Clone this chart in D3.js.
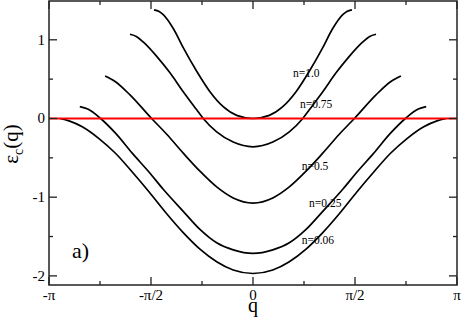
<!DOCTYPE html>
<html>
<head>
<meta charset="utf-8">
<script src="https://cdn.jsdelivr.net/npm/d3@7"></script>
<style>
  body { margin: 0; background: #fff; }
  svg { display: block; }
  text { font-family: "Liberation Serif", "DejaVu Serif", serif; fill: #000; }
</style>
</head>
<body>
<div id="chart"></div>
<script>
// band dispersion eps_c(q), q given in units of pi

const xTicks = [-1, -0.5, 0, 0.5, 1];
const xTickLabels = ['-\u03c0', '-\u03c0/2', '0', '\u03c0/2', '\u03c0'];
const yTicks = [-2, -1, 0, 1];

const n100 = [[-0.485, 1.38], [-0.46, 1.36], [-0.44, 1.32], [-0.39, 1.14], [-0.342, 0.9], [-0.276, 0.6], [-0.211, 0.34],
    [-0.146, 0.15], [-0.08, 0.04], [0, 0], [0.08, 0.04], [0.146, 0.15], [0.211, 0.34], [0.276, 0.6],
    [0.342, 0.9], [0.39, 1.14], [0.44, 1.32], [0.46, 1.36], [0.485, 1.38]];
const n075 = [[-0.603, 1.07], [-0.57, 1.04], [-0.537, 0.97], [-0.472, 0.79], [-0.407, 0.58], [-0.342, 0.34], [-0.276, 0.11],
    [-0.244, 0], [-0.178, -0.17], [-0.097, -0.3], [0, -0.36], [0.097, -0.3], [0.178, -0.17], [0.244, 0],
    [0.276, 0.11], [0.342, 0.34], [0.407, 0.58], [0.472, 0.79], [0.537, 0.97], [0.57, 1.04], [0.603, 1.07]];
const n050 = [[-0.725, 0.54], [-0.676, 0.47], [-0.603, 0.3], [-0.497, 0], [-0.423, -0.2], [-0.342, -0.44],
    [-0.26, -0.67], [-0.178, -0.87], [-0.097, -1.01], [0, -1.075], [0.097, -1.01], [0.178, -0.87], [0.26, -0.67],
    [0.342, -0.44], [0.423, -0.2], [0.497, 0], [0.603, 0.3], [0.676, 0.47], [0.725, 0.54]];
const n025 = [[-0.849, 0.15], [-0.81, 0.12], [-0.747, 0], [-0.673, -0.19], [-0.592, -0.44], [-0.51, -0.68],
    [-0.44, -0.9], [-0.342, -1.18], [-0.26, -1.41], [-0.178, -1.58], [-0.097, -1.67], [0, -1.715],
    [0.097, -1.67], [0.178, -1.58], [0.26, -1.41], [0.342, -1.18], [0.44, -0.9], [0.51, -0.68],
    [0.592, -0.44], [0.673, -0.19], [0.747, 0], [0.81, 0.12], [0.849, 0.15]];
const n006 = [[-0.946, 0], [-0.902, -0.03], [-0.837, -0.105], [-0.755, -0.255], [-0.673, -0.445], [-0.592, -0.68],
    [-0.51, -0.93], [-0.423, -1.21], [-0.342, -1.45], [-0.26, -1.66], [-0.178, -1.82], [-0.097, -1.925],
    [0, -1.97], [0.097, -1.925], [0.178, -1.82], [0.26, -1.66], [0.342, -1.45], [0.423, -1.21], [0.51, -0.93],
    [0.592, -0.68], [0.673, -0.445], [0.755, -0.255], [0.837, -0.105], [0.902, -0.03], [0.946, 0]];
const zeroLine = [[-1, 0], [1, 0]];

const curves = [n100, n075, n050, n025, n006];
const curveNames = ['n=1.0', 'n=0.75', 'n=0.5', 'n=0.25', 'n=0.06'];

const width = 463, height = 324;
const margin = { top: 1, right: 6, bottom: 39, left: 49 };

const svg = d3.select('#chart').append('svg')
    .attr('width', width)
    .attr('height', height);

const x = d3.scaleLinear().domain([-1, 1]).range([margin.left, width - margin.right]);
const y = d3.scaleLinear().domain([-2.116, 1.493]).range([height - margin.bottom, margin.top]);

// curves
const line = d3.line()
    .x(d => x(d[0]))
    .y(d => y(d[1]))
    .curve(d3.curveMonotoneX);

svg.append('g').selectAll('path')
    .data(curves)
    .enter().append('path')
    .attr('d', line)
    .attr('fill', 'none')
    .attr('stroke', '#000')
    .attr('stroke-width', 1.7);

svg.append('path')
    .attr('d', d3.line().x(d => x(d[0])).y(d => y(d[1]))(zeroLine))
    .attr('fill', 'none')
    .attr('stroke', '#ff0000')
    .attr('stroke-width', 2);

// axes: major + minor ticks pointing inward on all four sides
const xMinor = d3.range(-1, 1.01, 0.25);
const yMinor = d3.range(-2, 1.01, 0.5);
const majorLen = 8, minorLen = 4;
const x0 = margin.left, x1 = width - margin.right;
const y0 = height - margin.bottom, y1 = margin.top;

const axisG = svg.append('g').attr('stroke', '#222').attr('stroke-width', 1.3);
const isMajorX = v => xTicks.some(t => Math.abs(t - v) < 1e-6);
const isMajorY = v => yTicks.some(t => Math.abs(t - v) < 1e-6);

xMinor.forEach(v => {
    const len = isMajorX(v) ? majorLen : minorLen;
    axisG.append('line').attr('x1', x(v)).attr('x2', x(v)).attr('y1', y0).attr('y2', y0 - len);
    axisG.append('line').attr('x1', x(v)).attr('x2', x(v)).attr('y1', y1).attr('y2', y1 + len);
});
yMinor.forEach(v => {
    const len = isMajorY(v) ? majorLen : minorLen;
    axisG.append('line').attr('y1', y(v)).attr('y2', y(v)).attr('x1', x0).attr('x2', x0 + len);
    axisG.append('line').attr('y1', y(v)).attr('y2', y(v)).attr('x1', x1).attr('x2', x1 - len);
});
axisG.append('rect')
    .attr('x', x0).attr('y', y1)
    .attr('width', x1 - x0).attr('height', y0 - y1)
    .attr('fill', 'none')
    .attr('stroke-width', 1.5);

// tick labels
svg.append('g').selectAll('text')
    .data(xTicks)
    .enter().append('text')
    .attr('x', d => x(d))
    .attr('y', y0 + 15)
    .attr('text-anchor', 'middle')
    .attr('font-size', 15)
    .text((d, i) => xTickLabels[i]);

svg.append('g').selectAll('text')
    .data(yTicks)
    .enter().append('text')
    .attr('x', x0 - 4)
    .attr('y', d => y(d) + 5)
    .attr('text-anchor', 'end')
    .attr('font-size', 15)
    .text(d => d);

// axis titles
svg.append('text')
    .attr('x', x(0))
    .attr('y', 312)
    .attr('text-anchor', 'middle')
    .attr('font-size', 20)
    .text('q');

const yTitle = svg.append('text')
    .attr('transform', 'translate(18,144) rotate(-90)')
    .attr('text-anchor', 'middle')
    .attr('font-size', 21);
yTitle.append('tspan').text('\u03b5');
yTitle.append('tspan').attr('font-size', 14).attr('dy', 5).text('c');
yTitle.append('tspan').attr('dy', -5).text('(q)');

// curve labels
const labelPos = [[0.196, 0.527], [0.23, 0.133], [0.239, -0.66], [0.275, -1.125], [0.239, -1.595]];
svg.append('g').selectAll('text')
    .data(curveNames)
    .enter().append('text')
    .attr('x', (d, i) => x(labelPos[i][0]))
    .attr('y', (d, i) => y(labelPos[i][1]))
    .attr('font-size', 11.5)
    .text(d => d);

svg.append('text')
    .attr('x', 72)
    .attr('y', 258)
    .attr('font-size', 22)
    .text('a)');
</script>
</body>
</html>
